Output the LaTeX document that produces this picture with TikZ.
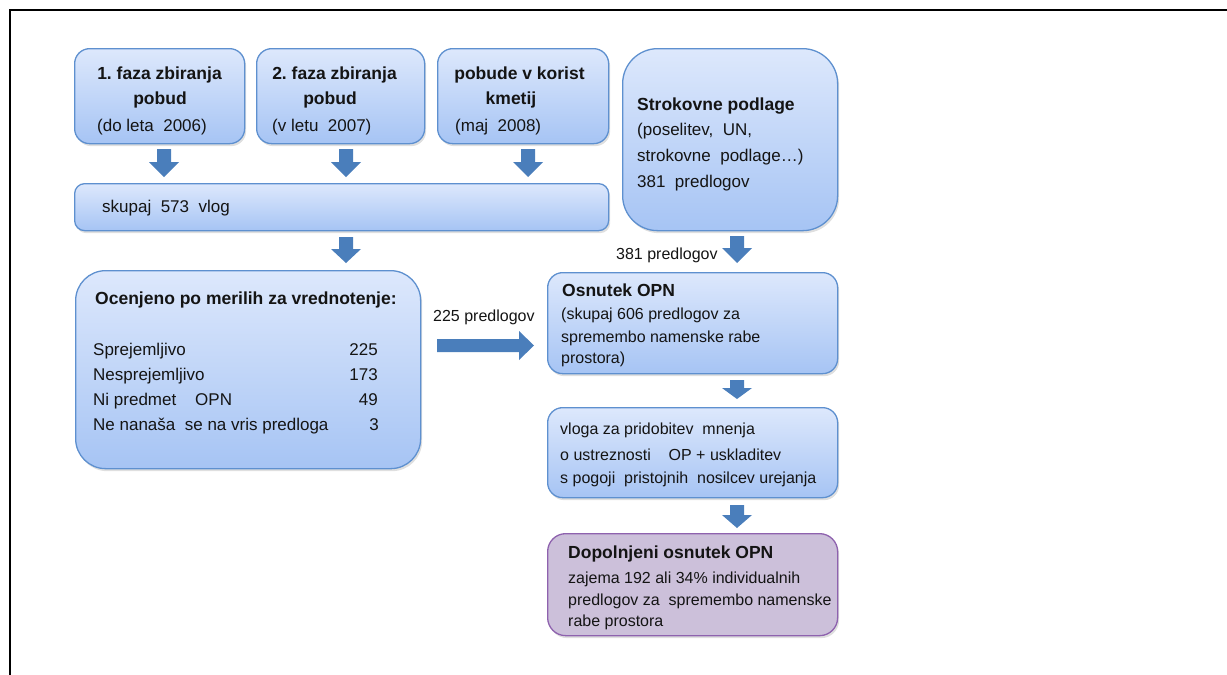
\documentclass[tikz,border=0pt]{standalone}
\usepackage{fontspec}
\setmainfont{Liberation Sans}
\usetikzlibrary{shadows}
\frenchspacing
\definecolor{boxtop}{HTML}{DDE8FC}
\definecolor{boxbot}{HTML}{A6C4F4}
\definecolor{boxline}{HTML}{5E90CF}
\definecolor{arrowblue}{HTML}{4A7EBB}
\definecolor{purfill}{HTML}{CCC0DA}
\definecolor{purline}{HTML}{8E62AE}
\definecolor{txt}{HTML}{141414}
\tikzset{
  bluebox/.style={draw=boxline, line width=1.3pt, top color=boxtop, bottom color=boxbot,
    drop shadow={opacity=0.25,shadow xshift=1.5pt,shadow yshift=-2.5pt},
    inner sep=0pt, anchor=north west},
  purbox/.style={draw=purline, line width=1.3pt, fill=purfill,
    drop shadow={opacity=0.25,shadow xshift=1.5pt,shadow yshift=-2.5pt},
    inner sep=0pt, anchor=north west},
  tnorm/.style={font=\fontsize{17}{20}\selectfont, text=txt, inner sep=0pt},
  tsmall/.style={font=\fontsize{16}{19}\selectfont, text=txt, inner sep=0pt},
  tbold/.style={font=\fontsize{17.5}{20}\selectfont\bfseries, text=txt, inner sep=0pt},
  blk/.style={fill=arrowblue, draw=none},
}
\newcommand\downblk[4]{%
  \fill[blk] ({#1-7},#2) -- ({#1+7},#2) -- ({#1+7},{#3-#4}) -- ({#1+15},{#3-#4})
    -- (#1,#3) -- ({#1-15},{#3-#4}) -- ({#1-7},{#3-#4}) -- cycle;}
\begin{document}
\begin{tikzpicture}[x=1pt,y=-1pt]
\useasboundingbox (0,0) rectangle (1227,675);
% frame lines
\draw[line width=1.2pt] (10,10) -- (880,10);
\draw[line width=2pt] (880,10) -- (1227,10);
\draw[line width=2pt] (10,9) -- (10,675);

% boxes
\node[bluebox, rounded corners=15pt, minimum width=170pt, minimum height=95pt] (b1) at (74,48) {};
\node[bluebox, rounded corners=15pt, minimum width=168pt, minimum height=95pt] (b2) at (256,48) {};
\node[bluebox, rounded corners=15pt, minimum width=171pt, minimum height=95pt] (b3) at (437,48) {};
\node[bluebox, rounded corners=35pt, minimum width=215pt, minimum height=182pt] (b4) at (622,48) {};
\node[bluebox, rounded corners=10pt, minimum width=534pt, minimum height=47pt] (sk) at (74,183) {};
\node[bluebox, rounded corners=30pt, minimum width=345pt, minimum height=198pt] (oc) at (75,270) {};
\node[bluebox, rounded corners=15pt, minimum width=290pt, minimum height=101pt] (os) at (547,272) {};
\node[bluebox, rounded corners=15pt, minimum width=290pt, minimum height=90pt] (vl) at (547,407) {};
\node[purbox, rounded corners=18pt, minimum width=290pt, minimum height=102pt] (dp) at (547,533) {};

% block arrows
\downblk{164}{149}{177}{15}
\downblk{346}{149}{177}{15}
\downblk{528}{149}{177}{15}
\downblk{346}{237}{263}{14}
\downblk{737}{236}{263}{15}
\downblk{737}{380}{399}{11}
\downblk{737}{505}{528}{13}
\fill[blk] (437,339) -- (519,339) -- (519,331) -- (534,345.5) -- (519,360) -- (519,352) -- (437,352) -- cycle;

% texts box 1
\node[tbold, anchor=base] (t1a) at (159.5,79) {1. faza zbiranja};
\node[tbold, anchor=base] (t1b) at (160,104) {pobud};
\node[tnorm, anchor=base west] (t1c) at (97,131) {(do leta \ 2006)};
% box 2
\node[tbold, anchor=base] (t2a) at (334.5,79) {2. faza zbiranja};
\node[tbold, anchor=base] (t2b) at (330,104) {pobud};
\node[tnorm, anchor=base west] (t2c) at (272,131) {(v letu \ 2007)};
% box 3
\node[tbold, anchor=base] (t3a) at (519.5,79) {pobude v korist};
\node[tbold, anchor=base] (t3b) at (511,104) {kmetij};
\node[tnorm, anchor=base west] (t3c) at (455,131) {(maj \ 2008)};
% box 4
\node[tbold, anchor=base west] (t4a) at (637,110) {Strokovne podlage};
\node[tnorm, anchor=base west] (t4b) at (637,135) {(poselitev, \ UN,};
\node[tnorm, anchor=base west] (t4c) at (637,161) {strokovne \ podlage…)};
\node[tnorm, anchor=base west] (t4d) at (637,187) {381 \ predlogov};
% skupaj
\node[tnorm, anchor=base west] (tsk) at (102,212) {skupaj \ 573 \ vlog};
% ocenjeno
\node[tbold, anchor=base west] (toc) at (95,304) {Ocenjeno po merilih za vrednotenje:};
\node[tnorm, anchor=base west] (r1) at (93,355) {Sprejemljivo};
\node[tnorm, anchor=base west] (r2) at (93,380) {Nesprejemljivo};
\node[tnorm, anchor=base west] (r3) at (93,405) {Ni predmet \ \ \ OPN};
\node[tnorm, anchor=base west] (r4) at (93,430) {Ne nanaša \ se na vris predloga};
\node[tnorm, anchor=base east] (n1) at (378,355) {225};
\node[tnorm, anchor=base east] (n2) at (378,380) {173};
\node[tnorm, anchor=base east] (n3) at (378,405) {49};
\node[tnorm, anchor=base east] (n4) at (379,430) {3};
% labels
\node[tsmall, anchor=base west] (l225) at (433,321) {225 predlogov};
\node[tsmall, anchor=base west] (l381) at (616,259) {381 predlogov};
% osnutek
\node[tbold, anchor=base west] (tos) at (562,296) {Osnutek OPN};
\node[tsmall, anchor=base west] (tos1) at (561,319) {(skupaj 606 predlogov za};
\node[tsmall, anchor=base west] (tos2) at (561,342) {spremembo namenske rabe};
\node[tsmall, anchor=base west] (tos3) at (561,363) {prostora)};
% vloga
\node[tsmall, anchor=base west] (tv1) at (560,434) {vloga za pridobitev \ mnenja};
\node[tsmall, anchor=base west] (tv2) at (560,460) {o ustreznosti \ \ \ OP + uskladitev};
\node[tsmall, anchor=base west] (tv3) at (560,483) {s pogoji \ pristojnih \ nosilcev urejanja};
% dopolnjeni
\node[tbold, anchor=base west] (td) at (568,558) {Dopolnjeni osnutek OPN};
\node[tsmall, anchor=base west] (td1) at (568,583) {zajema 192 ali 34\% individualnih};
\node[tsmall, anchor=base west] (td2) at (568,605) {predlogov za \ spremembo namenske};
\node[tsmall, anchor=base west] (td3) at (568,626) {rabe prostora};
\end{tikzpicture}
\end{document}
